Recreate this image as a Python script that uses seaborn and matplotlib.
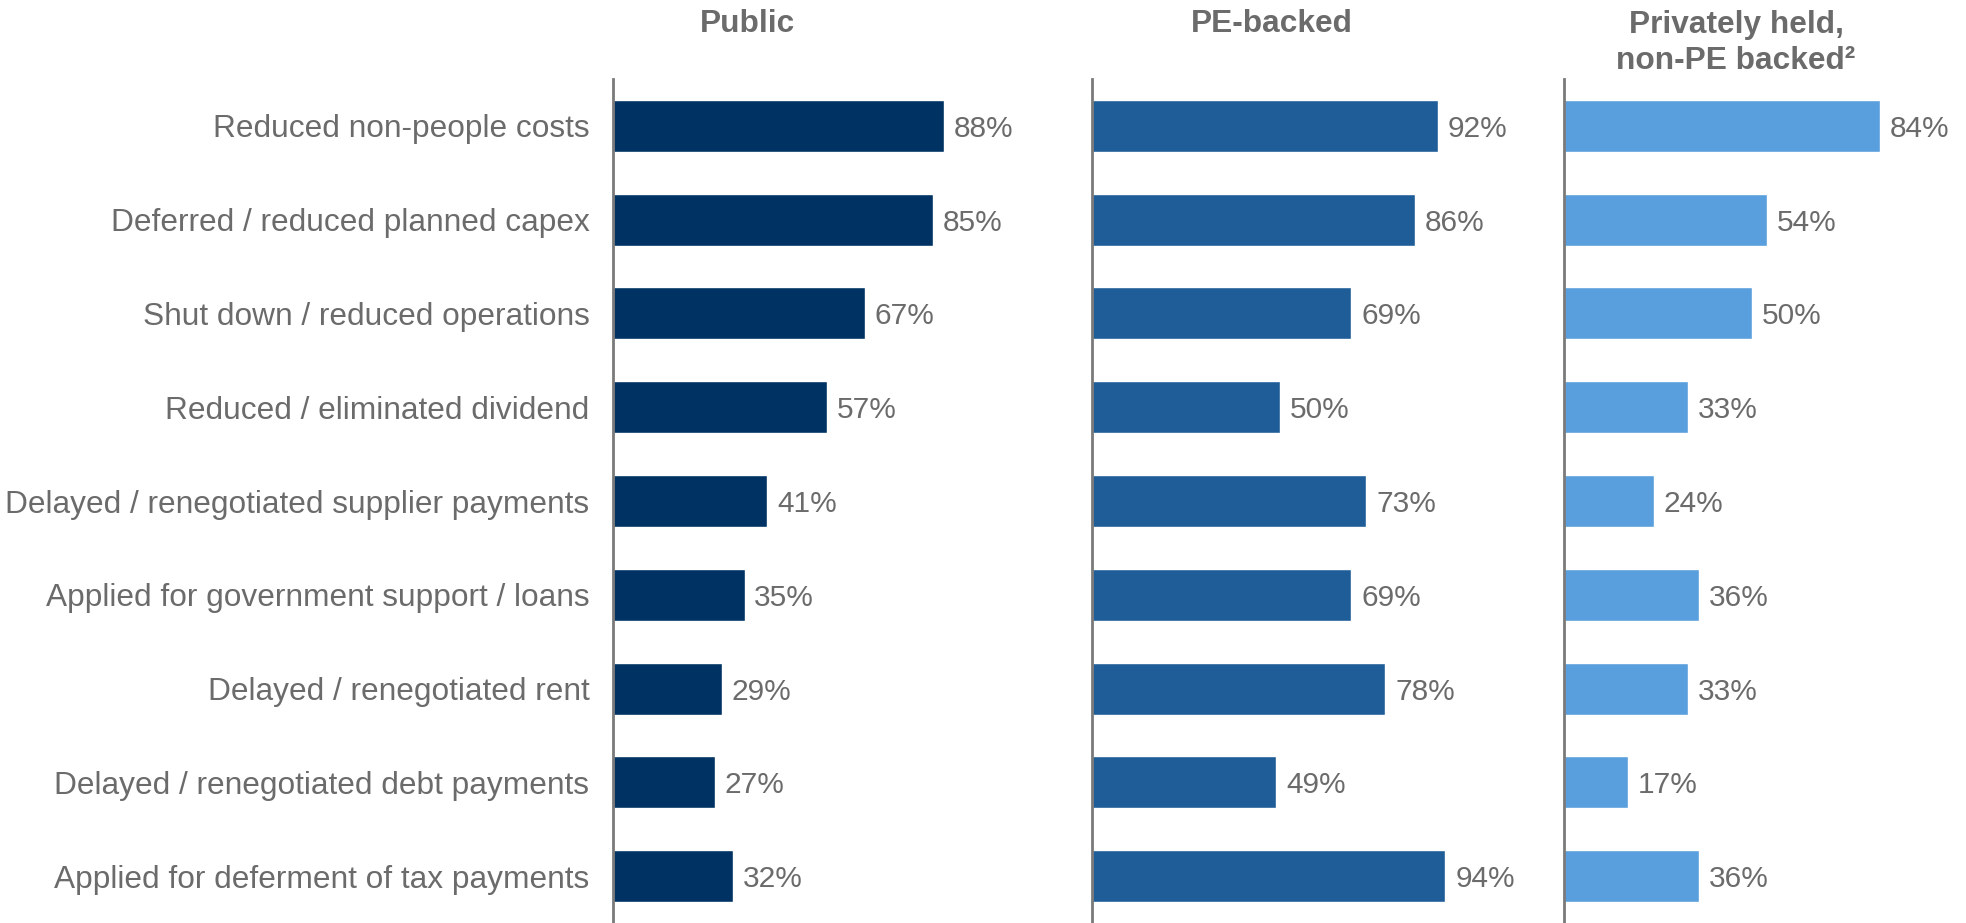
import matplotlib
matplotlib.use("Agg")
import matplotlib.pyplot as plt
import seaborn as sns
import pandas as pd

categories = [
    "Reduced non-people costs",
    "Deferred / reduced planned capex",
    "Shut down / reduced operations",
    "Reduced / eliminated dividend",
    "Delayed / renegotiated supplier payments",
    "Applied for government support / loans",
    "Delayed / renegotiated rent",
    "Delayed / renegotiated debt payments",
    "Applied for deferment of tax payments",
]
public_vals = [88, 85, 67, 57, 41, 35, 29, 27, 32]
pe_vals = [92, 86, 69, 50, 73, 69, 78, 49, 94]
private_vals = [84, 54, 50, 33, 24, 36, 33, 17, 36]

group_titles = ["Public", "PE-backed", "Privately held,\nnon-PE backed\u00b2"]
group_colors = ["#003263", "#1e5d98", "#5a9fdd"]

sns.set_theme(style="white")
plt.rcParams["font.family"] = ["Liberation Sans", "DejaVu Sans"]

W, H = 1966, 923
fig = plt.figure(figsize=(W / 100, H / 100), dpi=100)

text_gray = "#6b6b6b"
axis_left_px = [613, 1092, 1564]
axis_width_px = 376
top_px, bottom_px = 79, 923

series = [public_vals, pe_vals, private_vals]

for i, (vals, color, left) in enumerate(zip(series, group_colors, axis_left_px)):
    ax = fig.add_axes([left / W, 1 - bottom_px / H, axis_width_px / W, (bottom_px - top_px) / H])
    df = pd.DataFrame({"category": categories, "value": vals})
    sns.barplot(data=df, x="value", y="category", orient="h", color=color,
                width=0.555, saturation=1, ax=ax)
    ax.set_xlim(0, 100)
    ax.set_ylim(len(categories) - 0.5, -0.5)
    ax.set_xlabel("")
    ax.set_ylabel("")
    ax.set_xticks([])
    for side in ["top", "right", "bottom"]:
        ax.spines[side].set_visible(False)
    ax.spines["left"].set_color("#7a7a7a")
    ax.spines["left"].set_linewidth(2)
    ax.tick_params(axis="y", length=0, pad=17)
    if i == 0:
        ax.set_yticks(range(len(categories)))
        ax.set_yticklabels(categories, fontsize=22.8, color=text_gray)
    else:
        ax.set_yticks([])
    for container in ax.containers:
        labels = ax.bar_label(container, labels=[f"{v}%" for v in vals], padding=7,
                              fontsize=21.5, color=text_gray)
        for t in labels:
            t.set_verticalalignment("center_baseline")

# column headers
header_kw = dict(ha="center", va="center_baseline", fontsize=22.8,
                 fontweight="bold", color=text_gray)
fig.text(748 / W, 1 - 20 / H, group_titles[0], **header_kw)
fig.text(1272 / W, 1 - 20 / H, group_titles[1], **header_kw)
fig.text(1736 / W, 1 - 36 / H, group_titles[2], linespacing=1.3, **header_kw)

fig.savefig("out.png", dpi=100, facecolor="white")
